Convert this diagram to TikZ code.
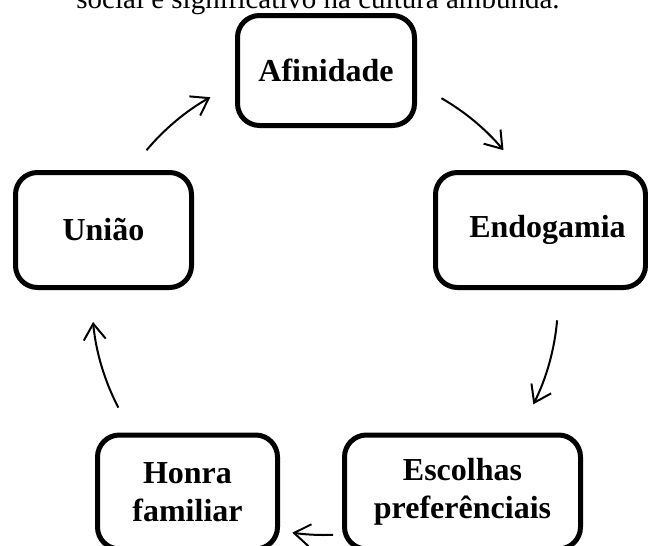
\documentclass[tikz,border=0pt]{standalone}
\usepackage{fontspec}
\setmainfont{Liberation Serif}
\usetikzlibrary{arrows.meta}
\begin{document}
\begin{tikzpicture}[x=0.5pt,y=-0.5pt,
  box/.style={draw=black, line width=2.5pt, rounded corners=11pt, inner sep=0pt,
    align=center, font=\fontsize{16}{19.2}\selectfont\bfseries},
  arr/.style={line width=1pt, -{Straight Barb[length=8pt,width=11pt]}},
  captext/.style={font=\fontsize{14.5}{17}\selectfont, inner sep=0pt}]
\useasboundingbox (0,0) rectangle (648,546);
\clip (0,0) rectangle (648,546);
\node[captext, anchor=base] (cap) at (318,9) {social e significativo na cultura ambunda.};
\node[box, minimum width=88.5pt, minimum height=55pt] (afin) at (326,70.5) {Afinidade};
\node[box, minimum width=88pt, minimum height=57.5pt] (uniao) at (103.5,230) {União};
\node[box, minimum width=105pt, minimum height=57.5pt] (endo) at (540.5,230) {\hspace*{7pt}Endogamia};
\node[box, minimum width=90pt, minimum height=57pt] (honra) at (187.5,492) {Honra\\familiar};
\node[box, minimum width=118pt, minimum height=57pt] (escol) at (462.5,492) {Escolhas\\preferênciais};
\coordinate (ctr) at (325,300);
\path (ctr) ++(140:116.5pt) coordinate (t1);
\path (ctr) ++(60:116.5pt) coordinate (t2);
\path (ctr) ++(-5:116.5pt) coordinate (t3);
\path (ctr) ++(-88:117.5pt) coordinate (t4);
\path (ctr) ++(207.5:116.5pt) coordinate (t5);
\draw[arr] (t1) arc[start angle=140, end angle=119.5, radius=116.5pt];
\draw[arr] (t2) arc[start angle=60, end angle=40, radius=116.5pt];
\draw[arr] (t3) arc[start angle=-5, end angle=-26.6, radius=116.5pt];
\draw[arr] (t4) arc[start angle=-88, end angle=-98, radius=117.5pt];
\draw[arr] (t5) arc[start angle=207.5, end angle=185.4, radius=116.5pt];
\end{tikzpicture}
\end{document}
